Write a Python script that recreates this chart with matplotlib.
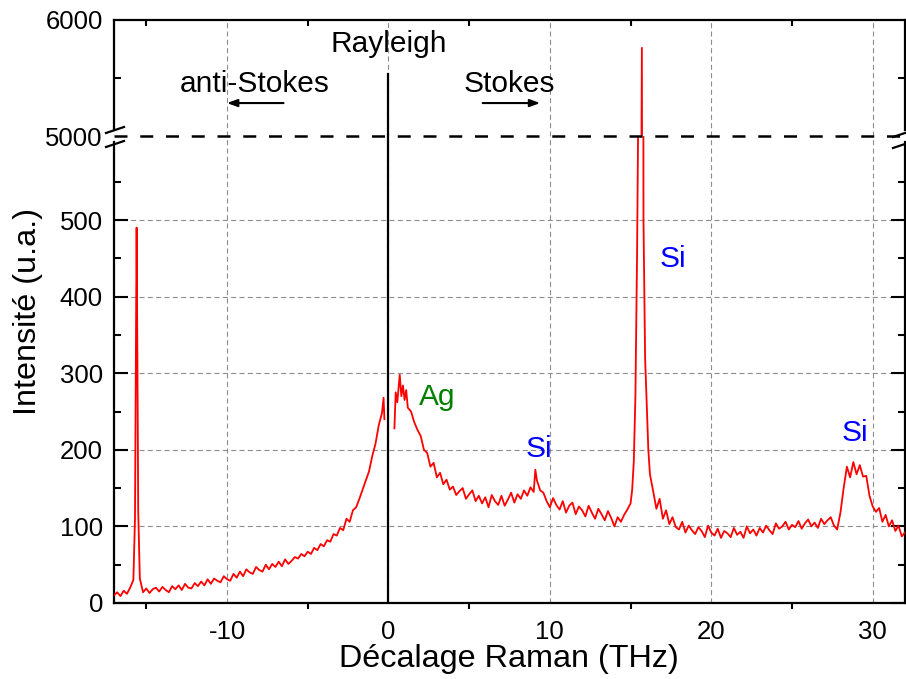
import numpy as np
import matplotlib
matplotlib.use("Agg")
import matplotlib.pyplot as plt
from matplotlib.lines import Line2D

plt.rcParams['font.family'] = ['Liberation Sans', 'DejaVu Sans']
plt.rcParams['axes.unicode_minus'] = False

# ---------------- data ----------------
raman_shift = [
    -17.0, -16.8, -16.6, -16.4, -16.2, -16.0, -15.8, -15.7, -15.65, -15.6, -15.55, -15.5, -15.4, -15.2,
    -15.0, -14.8, -14.6, -14.4, -14.2, -14.0, -13.8, -13.6, -13.4, -13.2,
    -13.0, -12.8, -12.6, -12.4, -12.2, -12.0, -11.8, -11.6, -11.4, -11.2,
    -11.0, -10.8, -10.6, -10.4, -10.2, -10.0, -9.8, -9.6, -9.4, -9.2,
    -9.0, -8.8, -8.6, -8.4, -8.2, -8.0, -7.8, -7.6, -7.4, -7.2,
    -7.0, -6.8, -6.6, -6.4, -6.2, -6.0, -5.8, -5.6, -5.4, -5.2,
    -5.0, -4.8, -4.6, -4.4, -4.2, -4.0, -3.8, -3.6, -3.4, -3.2,
    -3.0, -2.8, -2.6, -2.4, -2.2, -2.0, -1.8, -1.6, -1.4, -1.2,
    -1.0, -0.8, -0.6, -0.4, -0.3, -0.25, 0.05,
    0.37, 0.45, 0.55, 0.7, 0.8, 0.9, 1.0, 1.1, 1.2, 1.4, 1.6, 1.8,
    2.0, 2.2, 2.4, 2.6, 2.8, 3.0, 3.2, 3.4, 3.6, 3.8,
    4.0, 4.2, 4.4, 4.6, 4.8, 5.0, 5.2, 5.4, 5.6, 5.8,
    6.0, 6.2, 6.4, 6.6, 6.8, 7.0, 7.2, 7.4, 7.6, 7.8,
    8.0, 8.2, 8.4, 8.6, 8.8, 9.0, 9.1, 9.2, 9.4, 9.6, 9.8,
    10.0, 10.2, 10.4, 10.6, 10.8, 11.0, 11.2, 11.4, 11.6, 11.8,
    12.0, 12.2, 12.4, 12.6, 12.8, 13.0, 13.2, 13.4, 13.6, 13.8,
    14.0, 14.2, 14.4, 14.6, 14.8, 15.0, 15.1, 15.2, 15.3, 15.4, 15.5,
    15.6, 15.7, 15.75, 15.8, 15.9, 16.0, 16.1, 16.2, 16.4, 16.6, 16.8,
    17.0, 17.2, 17.4, 17.6, 17.8, 18.0, 18.2, 18.4, 18.6, 18.8,
    19.0, 19.2, 19.4, 19.6, 19.8, 20.0, 20.2, 20.4, 20.6, 20.8,
    21.0, 21.2, 21.4, 21.6, 21.8, 22.0, 22.2, 22.4, 22.6, 22.8,
    23.0, 23.2, 23.4, 23.6, 23.8, 24.0, 24.2, 24.4, 24.6, 24.8,
    25.0, 25.2, 25.4, 25.6, 25.8, 26.0, 26.2, 26.4, 26.6, 26.8,
    27.0, 27.2, 27.4, 27.6, 27.8, 28.0, 28.2, 28.4, 28.6, 28.8,
    29.0, 29.2, 29.4, 29.6, 29.8, 30.0, 30.2, 30.4, 30.6, 30.8,
    31.0, 31.2, 31.4, 31.6, 31.8, 32.0,
]
intensity = [
    10, 14, 9, 16, 12, 20, 30, 110, 300, 490, 320, 120, 32, 14,
    19, 13, 18, 20, 15, 21, 17, 14, 22, 18,
    23, 17, 25, 20, 19, 26, 22, 28, 23, 31,
    25, 32, 29, 27, 35, 31, 29, 38, 33, 41,
    35, 44, 40, 38, 47, 43, 41, 50, 44, 51,
    47, 54, 48, 57, 51, 55, 60, 58, 64, 61,
    67, 64, 72, 69, 77, 74, 82, 80, 90, 88,
    98, 95, 110, 106, 121, 125, 136, 148, 160, 172,
    192, 208, 232, 248, 268, 240, np.nan,
    228, 275, 262, 298, 270, 284, 265, 278, 255, 250, 236, 226,
    218, 200, 196, 178, 183, 164, 170, 155, 161, 148,
    152, 141, 146, 150, 136, 142, 147, 133, 140, 130,
    138, 125, 141, 133, 128, 140, 127, 135, 144, 131,
    142, 136, 147, 140, 151, 145, 174, 160, 147, 144, 133,
    125, 137, 128, 122, 133, 118, 127, 131, 116, 126,
    121, 113, 127, 118, 110, 123, 116, 108, 120, 111,
    100, 112, 106, 115, 122, 130, 148, 185, 270, 450, 700,
    2500, 5760, 1500, 500, 320, 260, 200, 168, 146, 123, 136,
    110, 121, 103, 112, 99, 96, 106, 92, 101, 95,
    90, 99, 94, 86, 101, 92, 88, 97, 85, 94,
    91, 86, 98, 89, 93, 85, 100, 91, 96, 88,
    98, 92, 101, 95, 90, 104, 97, 100, 106, 96,
    102, 99, 107, 97, 104, 109, 100, 105, 98, 110,
    103, 108, 112, 101, 96, 118, 150, 178, 164, 184,
    168, 180, 165, 166, 140, 126, 119, 124, 106, 115,
    100, 108, 94, 101, 87, 92,
]
x_major = [-10, 0, 10, 20, 30]
x_minor = [-15, -5, 5, 15, 25]
y_low_major = [0, 100, 200, 300, 400, 500]
y_low_minor = [50, 150, 250, 350, 450, 550]
y_high_major = [5000, 6000]
y_high_minor = [5500]

# ---------------- figure ----------------
W, H = 906, 679
fig = plt.figure(figsize=(W / 100, H / 100), dpi=100)

def fx(px):
    return px / W

def fy(py):
    return 1 - py / H

L, R, T, B, BRK = 114, 905, 20, 603, 136
ax_b = fig.add_axes([fx(L), fy(B), (R - L) / W, (B - BRK) / H])
ax_t = fig.add_axes([fx(L), fy(BRK), (R - L) / W, (BRK - T) / H])

low_top = (B - BRK) / 0.766
for ax in (ax_b, ax_t):
    ax.plot(raman_shift, intensity, color='#ff0000', lw=1.3, zorder=3)
    ax.set_xlim(-17, 32)
    ax.set_xticks(x_major)
    ax.set_xticks(x_minor, minor=True)
    ax.grid(axis='x', which='major', color='#8c8c8c', lw=0.8,
            linestyle=(0, (4.5, 3)), zorder=1)
    for s in ax.spines.values():
        s.set_linewidth(1.6)

ax_b.set_ylim(0, low_top)
ax_t.set_ylim(5000, 6000)

ax_b.set_yticks(y_low_major)
ax_b.set_yticks(y_low_minor, minor=True)
ax_t.set_yticks(y_high_major)
ax_t.set_yticks(y_high_minor, minor=True)

ax_b.grid(axis='y', which='major', color='#8c8c8c', lw=0.8,
          linestyle=(0, (4.5, 3)), zorder=1)

ax_b.spines['top'].set_visible(False)
ax_t.spines['bottom'].set_visible(False)
ax_b.spines['left'].set_bounds(0, (B - 142) / 0.766)
ax_b.spines['right'].set_bounds(0, (B - 142) / 0.766)
ax_t.spines['left'].set_bounds(5000 + 6 / 0.116, 6000)
ax_t.spines['right'].set_bounds(5000 + 6 / 0.116, 6000)

TS = 18.5
# ticks
ax_b.tick_params(axis='y', which='major', direction='in', length=10, width=1.5,
                 left=True, right=True, labelsize=TS, pad=8)
ax_b.tick_params(axis='y', which='minor', direction='in', length=5, width=1.5,
                 left=True, right=True)
ax_b.tick_params(axis='x', which='major', length=0, labelsize=TS, pad=12,
                 top=False)
ax_b.tick_params(axis='x', which='minor', direction='out', length=4, width=1.5,
                 bottom=True, top=False)

ax_t.tick_params(axis='y', which='major', direction='in', length=0,
                 left=True, right=True, labelsize=TS, pad=8)
ax_t.tick_params(axis='y', which='minor', direction='in', length=5, width=1.5,
                 left=True, right=True)
ax_t.tick_params(axis='x', which='major', length=0, bottom=False,
                 labelbottom=False, top=False)
ax_t.tick_params(axis='x', which='minor', direction='in', length=4, width=1.5,
                 bottom=False, top=True)

# Rayleigh line
ax_b.axvline(0, color='black', lw=1.6, zorder=2)
ax_t.plot([0, 0], [5000, 5534], color='black', lw=1.6, zorder=2)

# annotations
AS = 21.5
ax_t.text(0, 5724, 'Rayleigh', ha='center', va='baseline', fontsize=AS)
ax_t.text(-8.26, 5379, 'anti-Stokes', ha='center', va='baseline', fontsize=AS)
ax_t.text(7.5, 5379, 'Stokes', ha='center', va='baseline', fontsize=AS)
arrow = dict(arrowstyle='-|>,head_length=0.6,head_width=0.22', color='black',
             lw=1.5, shrinkA=0, shrinkB=0)
ax_t.annotate('', xy=(-10.0, 5284), xytext=(-6.5, 5284), arrowprops=arrow)
ax_t.annotate('', xy=(9.4, 5284), xytext=(5.84, 5284), arrowprops=arrow)

ax_b.text(3.05, 258, 'Ag', color='#008000', ha='center', va='baseline', fontsize=AS)
ax_b.text(9.3, 190, 'Si', color='#0000ff', ha='center', va='baseline', fontsize=AS)
ax_b.text(17.6, 439, 'Si', color='#0000ff', ha='center', va='baseline', fontsize=AS)
ax_b.text(28.9, 211, 'Si', color='#0000ff', ha='center', va='baseline', fontsize=AS)

# axis labels
fig.text(fx(509), fy(667), 'Décalage Raman (THz)', ha='center', va='baseline',
         fontsize=23.3)
fig.text(fx(28), fy(312), 'Intensité (u.a.)', ha='center', va='center',
         rotation=90, fontsize=23.3)

# break line and marks
fig.add_artist(Line2D([fx(L), fx(R)], [fy(BRK), fy(BRK)], color='black', lw=1.8,
                      linestyle=(0, (5.2, 5.1)), transform=fig.transFigure))
for (x0, y0, x1, y1) in [(106, 133, 124, 127), (106, 147, 124, 141),
                         (893, 137, 911, 131), (893, 148, 911, 142)]:
    fig.add_artist(Line2D([fx(x0), fx(x1)], [fy(y0), fy(y1)], color='black',
                          lw=1.6, transform=fig.transFigure, clip_on=False))

fig.savefig('out.png', dpi=100)
